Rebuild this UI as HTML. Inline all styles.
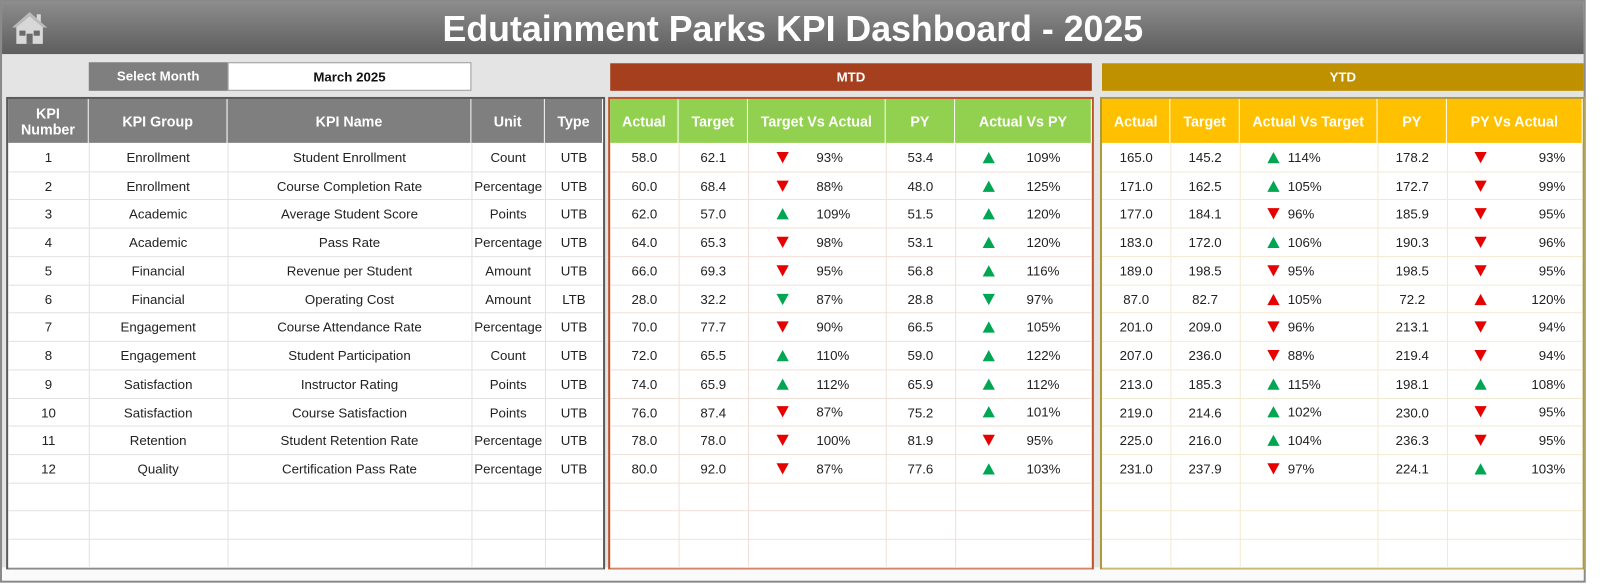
<!DOCTYPE html>
<html><head><meta charset="utf-8">
<style>
*{box-sizing:border-box;margin:0;padding:0}
body{width:1600px;height:584px;background:#fff;font-family:"Liberation Sans",sans-serif;position:relative;overflow:hidden}
#wrap{position:absolute;left:0;top:0;width:1568px;height:572px;transform:scale(1.0204);transform-origin:0 0}
.frame{position:absolute;left:0;top:0;width:1554px;height:571px;border:2px solid #8a8a8a;background:#e4e4e4}
.hdr{position:absolute;left:0;top:0;width:1550px;height:51px;background:linear-gradient(#8c8c8c,#5e5e5e);color:#fff;font-weight:bold;font-size:35px;text-align:center;line-height:54px}
.a{position:absolute}
.cell{position:absolute;display:flex;align-items:center;justify-content:center;font-size:13px;color:#222}
.th{color:#fff;font-weight:bold;font-size:14px;text-align:center;line-height:16px}
.tri{position:absolute;width:0;height:0;border-left:6px solid transparent;border-right:6px solid transparent}
.dn{border-top:11px solid}
.up{border-bottom:11px solid}
.pt{position:absolute;font-size:13px;color:#222}
</style></head><body>
<div id="wrap">
<div class="frame">
<div class="hdr">Edutainment Parks KPI Dashboard - 2025</div>
<svg class="a" style="left:8px;top:7px" width="38" height="36" viewBox="0 0 38 36">
<path d="M19 3 L2 18 L6 18 L6 34 L32 34 L32 18 L36 18 Z" fill="#d8d8d8"/>
<rect x="26" y="5" width="4" height="9" fill="#d8d8d8"/>
<path d="M19 3 L2 18 L6 18 L19 7 L32 18 L36 18 Z" fill="#bbb"/>
<rect x="9" y="21" width="6" height="5" fill="#6a6a6a"/><rect x="23" y="21" width="6" height="5" fill="#6a6a6a"/>
<rect x="16" y="24" width="6" height="10" fill="#6a6a6a"/>
</svg>
<div class="a" style="left:0;top:554px;width:1550px;height:13px;background:#fafafa"></div>
</div>
<div id="root"></div>
</div>
<script>
var H='';
function box(l,t,w,h,bg,txt,cls,extra){H+='<div class="cell '+(cls||'')+'" style="left:'+l+'px;top:'+t+'px;width:'+w+'px;height:'+h+'px;background:'+bg+';'+(extra||'')+'">'+txt+'</div>';}
box(87,61,136,28,'#7f7f7f','Select Month','th','font-size:13px');
box(223,61,239,28,'#fff','March 2025','','font-weight:bold;color:#111;border:1px solid #999');
box(598,62,472,27,'#a63f1d','MTD','th','font-size:13px');
box(1080,62,472,27,'#bf9000','YTD','th','font-size:13px');
var R0=140,RH=27.73,NR=15;
function table(x0,cols,hbg,bcol,gcol,heads){
  var w=cols[cols.length-1]-cols[0];
  H+='<div class="a" style="left:'+(x0-2)+'px;top:95px;width:'+(w+4)+'px;height:463px;border:2px solid '+bcol+';background:#fff"></div>';
  for(var i=0;i<heads.length;i++){box(cols[i],97,cols[i+1]-cols[i],43,hbg,heads[i],'th','border-right:1px solid #fff');}
  for(var r=0;r<NR;r++){var y=R0+(r+1)*RH;H+='<div class="a" style="left:'+cols[0]+'px;top:'+Math.round(y)+'px;width:'+w+'px;height:1px;background:'+gcol+'"></div>';}
  for(var i=1;i<cols.length-1;i++){H+='<div class="a" style="left:'+cols[i]+'px;top:140px;width:1px;height:416px;background:'+gcol+'"></div>';}
}
var LC=[8,87,223,462,534,591],MC=[598,665,733,868,936,1070],YC=[1080,1147,1215,1350,1418,1551];
table(8,LC,'#7f7f7f','#5a5a5a','#e2e2e2',['KPI<br>Number','KPI Group','KPI Name','Unit','Type']);
table(598,MC,'#92d050','#c0502a','#f0e0d8',['Actual','Target','Target Vs Actual','PY','Actual Vs PY']);
table(1080,YC,'#ffc000','#b09a3a','#f2ead2',['Actual','Target','Actual Vs Target','PY','PY Vs Actual']);
var L=[["Enrollment","Student Enrollment","Count","UTB"],["Enrollment","Course Completion Rate","Percentage","UTB"],["Academic","Average Student Score","Points","UTB"],["Academic","Pass Rate","Percentage","UTB"],["Financial","Revenue per Student","Amount","UTB"],["Financial","Operating Cost","Amount","LTB"],["Engagement","Course Attendance Rate","Percentage","UTB"],["Engagement","Student Participation","Count","UTB"],["Satisfaction","Instructor Rating","Points","UTB"],["Satisfaction","Course Satisfaction","Points","UTB"],["Retention","Student Retention Rate","Percentage","UTB"],["Quality","Certification Pass Rate","Percentage","UTB"]];
var M=["58.0 62.1 dr 93% 53.4 ug 109%","60.0 68.4 dr 88% 48.0 ug 125%","62.0 57.0 ug 109% 51.5 ug 120%","64.0 65.3 dr 98% 53.1 ug 120%","66.0 69.3 dr 95% 56.8 ug 116%","28.0 32.2 dg 87% 28.8 dg 97%","70.0 77.7 dr 90% 66.5 ug 105%","72.0 65.5 ug 110% 59.0 ug 122%","74.0 65.9 ug 112% 65.9 ug 112%","76.0 87.4 dr 87% 75.2 ug 101%","78.0 78.0 dr 100% 81.9 dr 95%","80.0 92.0 dr 87% 77.6 ug 103%"];
var Y=["165.0 145.2 ug 114% 178.2 dr 93%","171.0 162.5 ug 105% 172.7 dr 99%","177.0 184.1 dr 96% 185.9 dr 95%","183.0 172.0 ug 106% 190.3 dr 96%","189.0 198.5 dr 95% 198.5 dr 95%","87.0 82.7 ur 105% 72.2 ur 120%","201.0 209.0 dr 96% 213.1 dr 94%","207.0 236.0 dr 88% 219.4 dr 94%","213.0 185.3 ug 115% 198.1 ug 108%","219.0 214.6 ug 102% 230.0 dr 95%","225.0 216.0 ug 104% 236.3 dr 95%","231.0 237.9 dr 97% 224.1 ug 103%"];
function arrow(x,yc,code){var c=code[1]=='r'?'#e60000':'#00a651';var cls=code[0]=='d'?'dn':'up';var s=code[0]=='d'?'border-top-color:'+c:'border-bottom-color:'+c;H+='<div class="tri '+cls+'" style="left:'+(x-6)+'px;top:'+(yc-5)+'px;'+s+'"></div>';}
function pt(x,yc,t,right){H+='<div class="pt" style="'+(right?'right:'+(1568-x)+'px':'left:'+x+'px')+';top:'+(yc-7)+'px">'+t+'</div>';}
for(var r=0;r<12;r++){
  var t=Math.round(R0+r*RH),h=Math.round(RH),yc=Math.round(R0+r*RH+RH/2);
  var v=[String(r+1)].concat(L[r]);
  for(var i=0;i<5;i++)box(LC[i],t,LC[i+1]-LC[i],h,'transparent',v[i]);
  var m=M[r].split(' ');
  box(MC[0],t,67,h,'transparent',m[0]);box(MC[1],t,68,h,'transparent',m[1]);
  arrow(767,yc,m[2]);pt(800,yc,m[3]);
  box(MC[3],t,68,h,'transparent',m[4]);
  arrow(969,yc,m[5]);pt(1006,yc,m[6]);
  var y=Y[r].split(' ');
  box(YC[0],t,67,h,'transparent',y[0]);box(YC[1],t,68,h,'transparent',y[1]);
  arrow(1248,yc,y[2]);pt(1262,yc,y[3]);
  box(YC[3],t,68,h,'transparent',y[4]);
  arrow(1451,yc,y[5]);pt(1534,yc,y[6],true);
}
document.getElementById('root').innerHTML=H;
</script>
</body></html>
